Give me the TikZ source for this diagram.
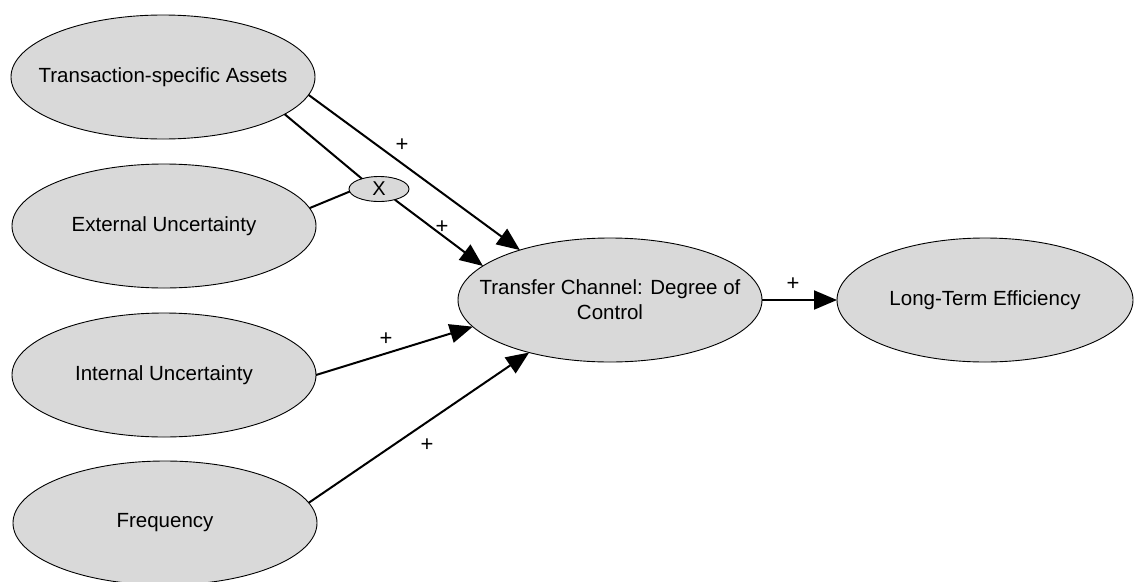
\documentclass[tikz,border=0pt]{standalone}
\usepackage{fontspec}
\setmainfont{Liberation Sans}
\usetikzlibrary{shapes.geometric,arrows.meta}
\definecolor{nodegray}{HTML}{D9D9D9}
\tikzset{
  construct/.style={ellipse,draw=black,line width=0.9pt,fill=nodegray,minimum width=304pt,minimum height=124pt,inner xsep=-40pt,inner ysep=-10pt,outer sep=0pt,align=center,font=\fontsize{20.5}{25}\selectfont},
  interact/.style={ellipse,draw=black,line width=0.9pt,fill=nodegray,minimum width=60pt,minimum height=25pt,inner xsep=-5pt,inner ysep=-5pt,outer sep=0pt,font=\fontsize{20}{24}\selectfont},
  link/.style={line width=2pt},
  effect/.style={line width=2pt,-{Triangle[length=23pt,width=19pt]}},
  sign/.style={font=\fontsize{22}{24}\selectfont,inner sep=0pt}
}
\begin{document}
\begin{tikzpicture}[x=1pt,y=-1pt]
\useasboundingbox (0,0) rectangle (1134,581);
\node[construct] (tsa) at (163,77) {Transaction-specific Assets};
\node[construct] (eu) at (164,226) {External Uncertainty};
\node[construct] (iu) at (164,375) {Internal Uncertainty};
\node[construct] (fr) at (165,523) {Frequency};
\node[construct] (tc) at (610,300) {Transfer Channel: Degree of\\Control};
\node[construct,minimum width=296pt] (lte) at (985,300) {Long-Term Efficiency};
\node[interact] (x) at (379,189) {X};

\draw[effect] (tsa.-7) -- (tc.151.7);
\draw[link] (tsa.-17.6) -- (x.149.5);
\draw[link] (eu.7) -- (x.185);
\draw[effect] (x.-34.5) -- (tc.165.5);
\draw[effect] (iu.0) -- (tc.191.7);
\draw[effect] (fr.8) -- (tc.213.5);
\draw[effect] (tc.east) -- (lte.west);

\node[sign] (p1) at (402,145) {+};
\node[sign] (p2) at (442,227) {+};
\node[sign] (p3) at (386,339) {+};
\node[sign] (p4) at (427,445) {+};
\node[sign] (p5) at (793,284) {+};
\end{tikzpicture}
\end{document}
